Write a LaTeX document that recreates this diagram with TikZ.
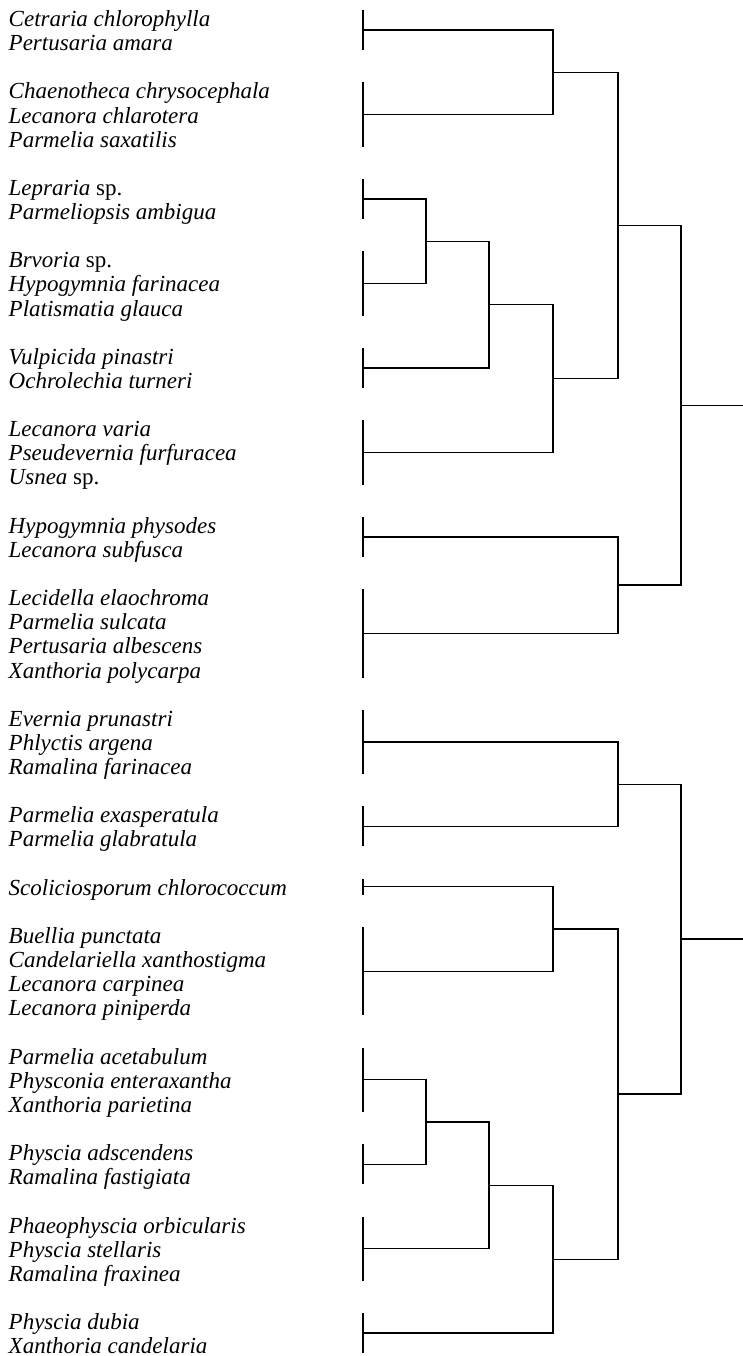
\documentclass[tikz,border=0pt]{standalone}
\usepackage{fontspec}
\setmainfont{Liberation Serif}
\usetikzlibrary{calc}

% join two clusters at level x, midway between them
\newcommand{\joinpair}[4]{%
  \path let \p1 = ($(#3)!0.5!(#4)$) in (#2pt,\y1) coordinate (#1);
  \draw (#3) -| (#1) |- (#4);
}

\begin{document}
\begin{tikzpicture}[x=1pt, y={(0pt,-24.13pt)}, line width=1.4pt,
  taxon/.style={anchor=base west, inner sep=0pt, yshift=-6.5pt,
    font=\fontsize{23}{24}\selectfont\itshape}]
  \useasboundingbox (0,-0.829) rectangle (743,55.367);

  % species names, one per line slot
  \foreach \sl/\txt in {0/Cetraria chlorophylla, 1/Pertusaria amara,
      3/Chaenotheca chrysocephala, 4/Lecanora chlarotera, 5/Parmelia saxatilis,
      7/Lepraria \textup{sp.}, 8/Parmeliopsis ambigua,
      10/Brvoria \textup{sp.}, 11/Hypogymnia farinacea, 12/Platismatia glauca,
      14/Vulpicida pinastri, 15/Ochrolechia turneri,
      17/Lecanora varia, 18/Pseudevernia furfuracea, 19/Usnea \textup{sp.},
      21/Hypogymnia physodes, 22/Lecanora subfusca,
      24/Lecidella elaochroma, 25/Parmelia sulcata, 26/Pertusaria albescens, 27/Xanthoria polycarpa,
      29/Evernia prunastri, 30/Phlyctis argena, 31/Ramalina farinacea,
      33/Parmelia exasperatula, 34/Parmelia glabratula,
      36/Scoliciosporum chlorococcum,
      38/Buellia punctata, 39/Candelariella xanthostigma, 40/Lecanora carpinea, 41/Lecanora piniperda,
      43/Parmelia acetabulum, 44/Physconia enteraxantha, 45/Xanthoria parietina,
      47/Physcia adscendens, 48/Ramalina fastigiata,
      50/Phaeophyscia orbicularis, 51/Physcia stellaris, 52/Ramalina fraxinea,
      54/Physcia dubia, 55/Xanthoria candelaria}
    \node[taxon] (t\sl) at (8,\sl) {\txt};

  % group bars
  \foreach \gn/\first/\last in {1/0/1, 2/3/5, 3/7/8, 4/10/12, 5/14/15, 6/17/19,
      7/21/22, 8/24/27, 9/29/31, 10/33/34, 11/36/36, 12/38/41, 13/43/45,
      14/47/48, 15/50/52, 16/54/55} {
    \draw (363,\first-0.41) -- (363,\last+0.25);
    \coordinate (g\gn) at (363,{(\first+\last)/2-0.08});
  }

  % upper cluster
  \joinpair{j1}{553}{g1}{g2}
  \joinpair{j2}{426}{g3}{g4}
  \joinpair{j3}{489}{j2}{g5}
  \joinpair{j4}{553}{j3}{g6}
  \joinpair{j5}{618}{j1}{j4}
  \joinpair{j6}{618}{g7}{g8}
  \joinpair{j7}{681}{j5}{j6}

  % lower cluster
  \joinpair{j8}{618}{g9}{g10}
  \joinpair{j9}{553}{g11}{g12}
  \joinpair{j10}{426}{g13}{g14}
  \joinpair{j11}{489}{j10}{g15}
  \joinpair{j12}{553}{j11}{g16}
  \joinpair{j13}{618}{j9}{j12}
  \joinpair{j14}{681}{j8}{j13}

  \coordinate (edge) at (743,0);
  \draw (j7) -- (j7 -| edge);
  \draw (j14) -- (j14 -| edge);
\end{tikzpicture}
\end{document}
